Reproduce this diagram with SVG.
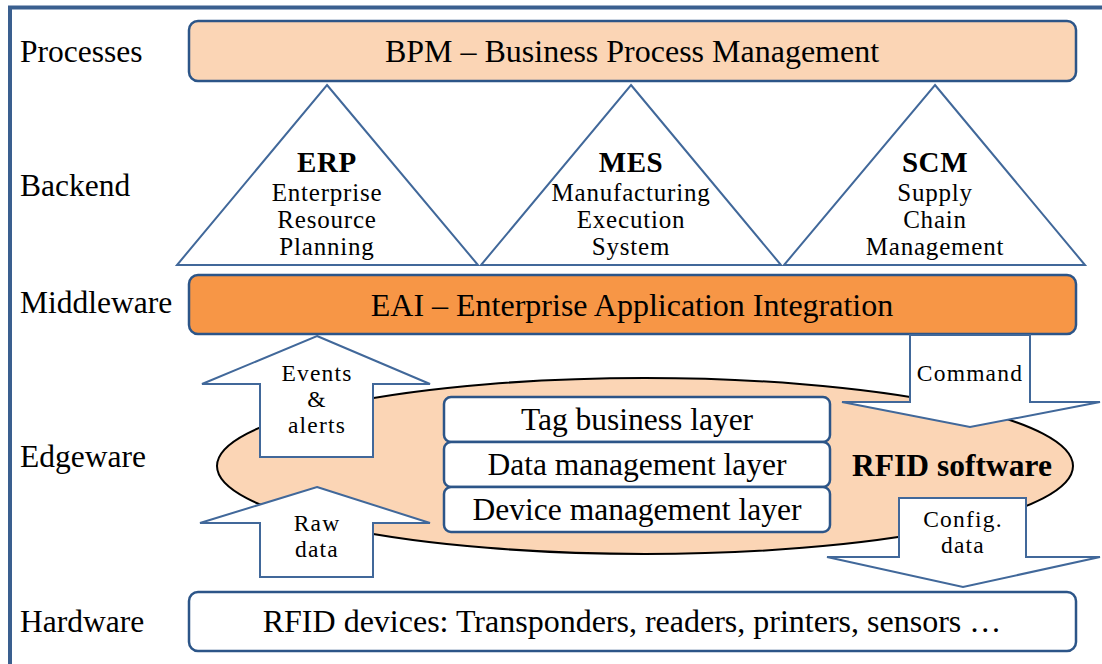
<svg xmlns="http://www.w3.org/2000/svg" width="1102" height="664" viewBox="0 0 1102 664">
  <style>
    text { font-family: "Liberation Serif", "Times New Roman", serif; fill: #000; }
    .lbl { font-size: 31.5px; }
    .big { font-size: 32px; text-anchor: middle; }
    .layer { font-size: 31.5px; text-anchor: middle; }
    .head { font-size: 29px; font-weight: bold; text-anchor: middle; letter-spacing: 0.6px; }
    .sub { font-size: 25px; text-anchor: middle; letter-spacing: 0.8px; }
    .arr { font-size: 23.5px; text-anchor: middle; letter-spacing: 1.2px; }
    .box { stroke: #2c5588; stroke-width: 2.5; }
    .tri { fill: #fff; stroke: #41689a; stroke-width: 2; stroke-linejoin: miter; }
    .arrow { fill: #fff; stroke: #41689a; stroke-width: 2; }
  </style>

  <rect width="1102" height="664" fill="#fff"/>
  <!-- outer frame -->
  <path d="M10,664 V7.5 H1102" fill="none" stroke="#3a5f8f" stroke-width="4"/>

  <!-- layer labels -->
  <g id="layer-labels">
    <text class="lbl" x="20" y="62">Processes</text>
    <text class="lbl" x="20" y="196">Backend</text>
    <text class="lbl" x="20" y="313">Middleware</text>
    <text class="lbl" x="20" y="467">Edgeware</text>
    <text class="lbl" x="20" y="632">Hardware</text>
  </g>

  <g id="bpm">
    <rect class="box" x="189" y="21" width="887" height="60" rx="9" fill="#fbd5b5"/>
    <text class="big" x="632" y="62">BPM – Business Process Management</text>
  </g>

  <g id="erp">
    <polygon class="tri" points="327,85 478,265 177,265"/>
    <text class="head" x="327" y="172">ERP</text>
    <text class="sub" x="327" y="201">Enterprise</text>
    <text class="sub" x="327" y="228">Resource</text>
    <text class="sub" x="327" y="255">Planning</text>
  </g>

  <g id="mes">
    <polygon class="tri" points="631,85 781,265 481,265"/>
    <text class="head" x="631" y="172">MES</text>
    <text class="sub" x="631" y="201">Manufacturing</text>
    <text class="sub" x="631" y="228">Execution</text>
    <text class="sub" x="631" y="255">System</text>
  </g>

  <g id="scm">
    <polygon class="tri" points="935,85 1085,265 784,265"/>
    <text class="head" x="935" y="172">SCM</text>
    <text class="sub" x="935" y="201">Supply</text>
    <text class="sub" x="935" y="228">Chain</text>
    <text class="sub" x="935" y="255">Management</text>
  </g>

  <g id="eai">
    <rect class="box" x="189" y="275" width="887" height="59" rx="9" fill="#f79646"/>
    <text class="big" x="632" y="316">EAI – Enterprise Application Integration</text>
  </g>

  <g id="rfid-software">
    <ellipse cx="645" cy="466" rx="428" ry="88" fill="#fbd5b5" stroke="#000" stroke-width="2"/>
    <text class="head" x="952" y="476" style="font-size:31.5px; letter-spacing:0">RFID software</text>
  </g>

  <g id="tag-business-layer">
    <rect class="box" x="444" y="397" width="386" height="45" rx="7" fill="#fff"/>
    <text class="layer" x="637" y="430">Tag business layer</text>
  </g>
  <g id="data-management-layer">
    <rect class="box" x="444" y="442" width="386" height="45" rx="7" fill="#fff"/>
    <text class="layer" x="637" y="475">Data management layer</text>
  </g>
  <g id="device-management-layer">
    <rect class="box" x="444" y="487" width="386" height="45" rx="7" fill="#fff"/>
    <text class="layer" x="637" y="520">Device management layer</text>
  </g>

  <!-- block arrows between layers -->
  <g id="connectors">
    <g id="events-arrow">
      <polygon class="arrow" points="317,336 430,384 373,384 373,457 260,457 260,384 202,384"/>
      <text class="arr" x="317" y="381">Events</text>
      <text class="arr" x="317" y="407">&amp;</text>
      <text class="arr" x="317" y="433">alerts</text>
    </g>
    <g id="raw-data-arrow">
      <polygon class="arrow" points="317,487 430,523 373,523 373,577 260,577 260,523 200,523"/>
      <text class="arr" x="317" y="531">Raw</text>
      <text class="arr" x="317" y="557">data</text>
    </g>
    <g id="command-arrow">
      <polygon class="arrow" points="910,335 1030,335 1030,402 1100,402 970,427 842,402 910,402"/>
      <text class="arr" x="970" y="381">Command</text>
    </g>
    <g id="config-arrow">
      <polygon class="arrow" points="899,498 1026,498 1026,557 1100,557 963,587 827,557 899,557"/>
      <text class="arr" x="963" y="527">Config.</text>
      <text class="arr" x="963" y="553">data</text>
    </g>
  </g>

  <g id="hardware">
    <rect class="box" x="189" y="592" width="887" height="59" rx="9" fill="#fff"/>
    <text class="big" x="632" y="632">RFID devices: Transponders, readers, printers, sensors …</text>
  </g>
</svg>
